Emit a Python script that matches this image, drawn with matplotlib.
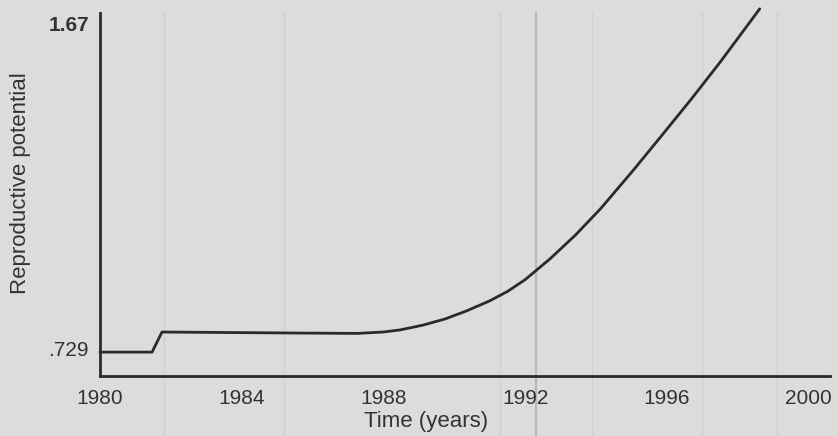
import matplotlib
matplotlib.use('Agg')

import matplotlib.pyplot as plt

# values
years = [1980.0, 1981.47, 1981.75, 1983.0, 1985.65, 1987.26, 1987.99, 1988.47,
         1989.12, 1989.75, 1990.37, 1991.0, 1991.5, 1992.01, 1992.71, 1993.42,
         1994.12, 1995.06, 1995.82, 1996.67, 1997.51, 1998.62]
potential = [0.720, 0.720, 0.778, 0.777, 0.775, 0.774, 0.778, 0.784,
             0.798, 0.816, 0.840, 0.868, 0.895, 0.930, 0.990, 1.058,
             1.133, 1.246, 1.341, 1.448, 1.558, 1.711]

x_ticks = [1980, 1984, 1988, 1992, 1996, 2000]
y_ticks = [0.729, 1.67]
y_tick_labels = ['.729', '1.67']

# faint fold / grid lines visible on the scanned paper
paper_lines = [1981.8, 1985.2, 1991.3, 1992.3, 1993.9, 1997.0, 1999.1]

paper = '#dcdcda'
ink = '#2a2a2a'

plt.rcParams['font.family'] = ['Liberation Sans', 'DejaVu Sans']

fig = plt.figure(figsize=(8.38, 4.36), dpi=100, facecolor=paper)
ax = fig.add_axes([0.1193, 0.1376, 0.871, 0.8326])
ax.set_facecolor(paper)

for i, xl in enumerate(paper_lines):
    ax.axvline(xl, color='#b8b8b6' if i == 3 else '#d0d0ce', lw=1.6 if i == 3 else 1.0,
               zorder=0, ymin=-0.2, clip_on=False)

ax.plot(years, potential, color=ink, lw=2.0, clip_on=False, zorder=3,
        solid_joinstyle='round', solid_capstyle='round')

ax.set_xlim(1980, 2000.6)
ax.set_ylim(0.651, 1.699)

ax.spines['top'].set_visible(False)
ax.spines['right'].set_visible(False)
for s in ('left', 'bottom'):
    ax.spines[s].set_color(ink)
    ax.spines[s].set_linewidth(2.0)

ax.set_xticks(x_ticks)
ax.set_yticks(y_ticks)
ax.set_yticklabels(y_tick_labels)
ax.tick_params(axis='x', length=0, pad=9, labelsize=15, labelcolor='#333333')
ax.tick_params(axis='y', length=0, pad=8, labelsize=15, labelcolor='#333333')
for lbl in ax.get_yticklabels():
    if lbl.get_text() == '1.67':
        lbl.set_fontweight('bold')

fig.text(0.508, 0.034, 'Time (years)', ha='center', va='center', fontsize=16, color='#333333')
fig.text(0.025, 0.58, 'Reproductive potential', ha='center', va='center',
         rotation=90, fontsize=16, color='#333333')

fig.savefig('out.png', dpi=100, facecolor=paper)
